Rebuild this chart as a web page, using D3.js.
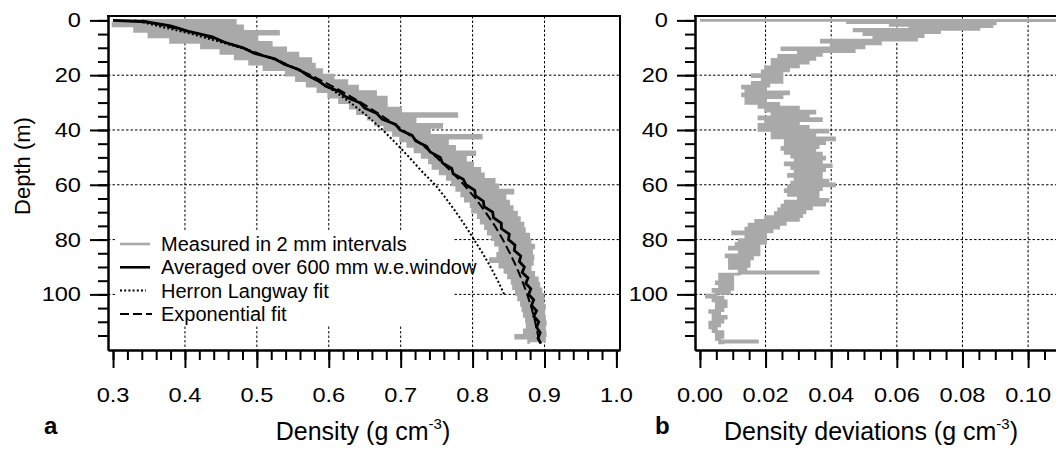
<!DOCTYPE html>
<html><head><meta charset="utf-8">
<script src="https://cdn.jsdelivr.net/npm/d3@7"></script>
<style>
body{margin:0;background:#fff}
svg{display:block}
text{font-family:"Liberation Sans",Arial,Helvetica,sans-serif;fill:#000}
</style>
</head><body>
<svg id="c" width="1056" height="450"></svg>
<script>
// ---------- DATA ----------
const depthTicks = [0, 20, 40, 60, 80, 100];
const depthMinor = [0,5,10,15,20,25,30,35,40,45,50,55,60,65,70,75,80,85,90,95,100,105,110,115];
const densityTicks = [0.3,0.4,0.5,0.6,0.7,0.8,0.9,1.0];
const densityTickLabels = ["0.3","0.4","0.5","0.6","0.7","0.8","0.9","1.0"];
const devTicks = [0,0.02,0.04,0.06,0.08,0.10];
const devTickLabels = ["0.00","0.02","0.04","0.06","0.08","0.10"];

// measured density (2 mm intervals), sampled as a ragged trace
const measuredDepth = [0,1,2,3,4,5,6,7,8,9,10,11,12,13,14,15,16,17,18,19,20,21,22,23,24,25,26,27,28,29,30,31,32,33,34,35,36,37,38,39,40,41,42,43,44,45,46,47,48,49,50,51,52,53,54,55,56,57,58,59,60,61,62,63,64,65,66,67,68,69,70,71,72,73,74,75,76,77,78,79,80,81,82,83,84,85,86,87,88,89,90,91,92,93,94,95,96,97,98,99,100,101,102,103,104,105,106,107,108,109,110,111,112,113,114,115,116,117,118];
const measuredDensity = [0.300,0.470,0.300,0.480,0.330,0.530,0.350,0.500,0.380,0.520,0.423,0.540,0.450,0.557,0.470,0.575,0.490,0.580,0.510,0.590,0.541,0.606,0.555,0.625,0.570,0.640,0.585,0.665,0.600,0.680,0.615,0.680,0.630,0.700,0.640,0.778,0.655,0.720,0.665,0.757,0.678,0.740,0.690,0.812,0.700,0.765,0.710,0.775,0.720,0.803,0.730,0.790,0.740,0.800,0.745,0.810,0.755,0.815,0.765,0.830,0.772,0.835,0.778,0.856,0.785,0.845,0.790,0.850,0.798,0.855,0.800,0.861,0.808,0.865,0.812,0.870,0.818,0.872,0.822,0.878,0.828,0.880,0.832,0.885,0.838,0.882,0.835,0.884,0.825,0.883,0.838,0.880,0.845,0.885,0.850,0.890,0.855,0.892,0.857,0.895,0.861,0.898,0.864,0.898,0.868,0.900,0.870,0.899,0.872,0.900,0.875,0.901,0.876,0.900,0.872,0.901,0.860,0.900,0.878];

// averaged over 600 mm w.e. window
const avgDepth = [0,0.5,2,4,6,8,10,12,14,16,18,20,22,24,26,28,30,32,34,36,38,40,42,44,46,48,50,52,54,56,58,60,62,64,66,68,70,72,74,76,78,80,82,84,86,88,90,92,94,96,98,100,102,104,106,108,110,112,114,116,118];
const avgDensity = [0.300,0.345,0.380,0.405,0.438,0.455,0.481,0.496,0.525,0.538,0.559,0.570,0.585,0.596,0.615,0.624,0.643,0.650,0.667,0.674,0.693,0.699,0.716,0.721,0.736,0.741,0.755,0.758,0.771,0.773,0.787,0.791,0.803,0.804,0.815,0.816,0.828,0.829,0.840,0.840,0.851,0.850,0.859,0.858,0.867,0.865,0.872,0.869,0.877,0.874,0.881,0.878,0.885,0.882,0.889,0.885,0.892,0.889,0.894,0.891,0.895];

// Herron Langway fit
const hlDepth = [0,5,10,15,20,25,30,35,40,45,50,55,60,65,70,75,80,85,90,95,100];
const hlDensity = [0.330,0.410,0.478,0.532,0.572,0.603,0.630,0.654,0.675,0.694,0.712,0.729,0.748,0.763,0.777,0.790,0.802,0.814,0.825,0.835,0.844];

// Exponential fit
const expDepth = [0,5,10,15,20,25,30,35,40,45,50,55,60,65,70,75,80,85,90,95,100,105,110,115,118];
const expDensity = [0.340,0.420,0.480,0.533,0.575,0.612,0.645,0.675,0.703,0.728,0.750,0.770,0.788,0.804,0.818,0.831,0.842,0.852,0.861,0.869,0.876,0.882,0.887,0.891,0.893];

// density deviations
const devDepth = [0,0.1,0.8,1.3,1.8,2.3,2.8,3.3,3.8,4.5,5.2,5.9,6.5,7.2,7.9,8.6,9.3,10.0,10.7,11.4,12.1,12.8,13.5,14.2,14.9,15.6,16.3,17.0,17.7,18.4,19.1,19.8,20.5,21.2,21.9,22.6,23.3,24.0,24.7,25.4,26.1,26.8,27.5,28.2,28.9,29.6,30.3,31.0,31.7,32.4,33.1,33.8,34.5,35.2,35.9,36.6,37.3,38.0,38.7,39.4,40.1,40.8,41.5,42.2,42.9,43.6,44.3,45.0,45.7,46.4,47.1,47.8,48.5,49.2,49.9,50.6,51.3,52.0,52.7,53.4,54.1,54.8,55.5,56.2,56.9,57.6,58.3,59.0,59.7,60.4,61.1,61.8,62.5,63.2,63.9,64.6,65.3,66.0,66.7,67.4,68.1,68.8,69.5,70.2,70.9,71.6,72.3,73.0,73.7,74.4,75.1,75.8,76.5,77.2,77.9,78.6,79.3,80.0,80.7,81.4,82.1,82.8,83.5,84.2,84.9,85.6,86.3,87.0,87.7,88.4,89.1,89.8,90.5,91.2,91.8,92.2,92.6,93.3,94.0,94.7,95.4,96.1,96.8,97.5,98.2,98.9,99.6,100.3,101.0,101.7,102.4,103.1,103.8,104.5,105.2,105.9,106.6,107.3,108.0,108.7,109.4,110.1,110.8,111.5,112.2,112.9,113.6,114.3,115.0,115.7,116.4,117.0,117.4,117.7,118.2];
const devValue = [0.000,0.200,0.045,0.090,0.058,0.089,0.064,0.085,0.047,0.073,0.050,0.068,0.053,0.066,0.037,0.055,0.040,0.050,0.025,0.047,0.030,0.037,0.024,0.035,0.022,0.033,0.022,0.030,0.020,0.027,0.019,0.025,0.016,0.025,0.019,0.025,0.016,0.021,0.013,0.020,0.014,0.027,0.013,0.025,0.014,0.020,0.014,0.024,0.018,0.030,0.020,0.035,0.022,0.033,0.018,0.037,0.020,0.030,0.018,0.033,0.018,0.039,0.022,0.035,0.022,0.041,0.026,0.038,0.026,0.036,0.025,0.035,0.026,0.037,0.028,0.038,0.029,0.037,0.026,0.040,0.028,0.038,0.029,0.037,0.027,0.037,0.029,0.039,0.028,0.041,0.027,0.037,0.026,0.036,0.027,0.036,0.030,0.039,0.026,0.038,0.025,0.034,0.024,0.032,0.023,0.031,0.020,0.030,0.017,0.026,0.015,0.024,0.014,0.022,0.010,0.020,0.014,0.020,0.012,0.020,0.011,0.018,0.009,0.018,0.012,0.018,0.008,0.016,0.009,0.015,0.009,0.015,0.009,0.014,0.012,0.036,0.012,0.006,0.010,0.006,0.010,0.005,0.010,0.006,0.010,0.004,0.009,0.005,0.002,0.007,0.004,0.008,0.005,0.008,0.005,0.007,0.003,0.006,0.004,0.008,0.004,0.007,0.003,0.006,0.003,0.005,0.004,0.007,0.005,0.007,0.005,0.006,0.0175,0.006,0.007];

const legendLabels = ["Measured in 2 mm intervals","Averaged over 600 mm w.e.window","Herron Langway fit","Exponential fit"];

// ---------- DRAW ----------
const svg = d3.select('#c');
const TOP = 16, BOT = 350;
const yS = d3.scaleLinear().domain([-1.6, 120.3]).range([TOP, BOT]);
const xL = d3.scaleLinear().domain([0.293, 1.005]).range([108, 620]);
const xR = d3.scaleLinear().domain([-0.0015, 0.1085]).range([695, 1056]);
const GRAY = '#a9a9a9';

const defs = svg.append('defs');
defs.append('clipPath').attr('id','clipL').append('rect').attr('x',108).attr('y',TOP).attr('width',512).attr('height',BOT-TOP);
defs.append('clipPath').attr('id','clipR').append('rect').attr('x',695).attr('y',TOP).attr('width',361).attr('height',BOT-TOP);

function grid(xs, xg, x0, x1) {
  const g = svg.append('g').attr('stroke','#000').attr('stroke-width',1).attr('stroke-dasharray','2.5,2');
  g.selectAll('line.v').data(xg).join('line').attr('class','v')
    .attr('x1',d=>xs(d)).attr('x2',d=>xs(d)).attr('y1',TOP).attr('y2',BOT);
  g.selectAll('line.h').data(depthTicks.slice(1)).join('line').attr('class','h')
    .attr('x1',x0).attr('x2',x1).attr('y1',d=>yS(d)).attr('y2',d=>yS(d));
}
grid(xL, densityTicks.filter(d=>d>0.35 && d<0.95), 108, 620);
grid(xR, devTicks.filter(d=>d>0.001), 695, 1056);

// data left
const lineL = (ds, vs, curve) => d3.line().curve(curve || d3.curveLinear).x((d,i)=>xL(vs[i])).y((d,i)=>yS(ds[i]))(ds);
const gL = svg.append('g').attr('clip-path','url(#clipL)').attr('fill','none');
gL.append('path').attr('d', lineL(measuredDepth, measuredDensity, d3.curveStepAfter)).attr('stroke',GRAY).attr('stroke-width',2.8);
gL.append('path').attr('d', lineL(hlDepth, hlDensity)).attr('stroke','#000').attr('stroke-width',2).attr('stroke-dasharray','2,2.2');
gL.append('path').attr('d', lineL(expDepth, expDensity)).attr('stroke','#000').attr('stroke-width',2).attr('stroke-dasharray','9,4');
gL.append('path').attr('d', lineL(avgDepth, avgDensity)).attr('stroke','#000').attr('stroke-width',2.8);

// data right
const gR = svg.append('g').attr('clip-path','url(#clipR)').attr('fill','none');
gR.append('path').attr('d', d3.line().curve(d3.curveStepAfter).x((d,i)=>xR(devValue[i])).y((d,i)=>yS(devDepth[i]))(devDepth))
  .attr('stroke',GRAY).attr('stroke-width',2.8);

// legend
const lg = svg.append('g');
lg.append('rect').attr('x',115).attr('y',232).attr('width',338).attr('height',93).attr('fill','#fff');
const styles = [
  {c:GRAY, w:2.6, da:null, x2:150},
  {c:'#000', w:2.6, da:null, x2:150},
  {c:'#000', w:2, da:'2,2.2', x2:146},
  {c:'#000', w:2, da:'9,4', x2:152}
];
legendLabels.forEach((t,i)=>{
  const y = 244 + i*23.3;
  const s = styles[i];
  const ln = lg.append('line').attr('x1',120).attr('x2',s.x2).attr('y1',y).attr('y2',y).attr('stroke',s.c).attr('stroke-width',s.w);
  if (s.da) ln.attr('stroke-dasharray',s.da);
  lg.append('text').attr('x',161).attr('y',y+7).attr('font-size',20).text(t);
});

// axes
function axisStyle(g){ g.selectAll('path,line').attr('stroke','#000').attr('stroke-width',2); g.selectAll('text').remove(); }
// left panel
svg.append('g').attr('transform','translate(108,0)').call(d3.axisLeft(yS).tickValues(depthMinor).tickSize(10).tickSizeOuter(0)).call(axisStyle);
svg.append('g').attr('transform','translate(108,0)').call(d3.axisLeft(yS).tickValues(depthTicks).tickSize(18).tickSizeOuter(0)).call(axisStyle);
const densMinor = d3.range(0, 36).map(i => 0.3 + i*0.02);
svg.append('g').attr('transform',`translate(0,${BOT})`).call(d3.axisBottom(xL).tickValues(densMinor).tickSize(10).tickSizeOuter(0)).call(axisStyle);
svg.append('g').attr('transform',`translate(0,${BOT})`).call(d3.axisBottom(xL).tickValues(densityTicks).tickSize(18).tickSizeOuter(0)).call(axisStyle);
// frame top/right
svg.append('line').attr('x1',107).attr('x2',621).attr('y1',TOP).attr('y2',TOP).attr('stroke','#000').attr('stroke-width',2);
svg.append('line').attr('x1',620).attr('x2',620).attr('y1',TOP).attr('y2',BOT).attr('stroke','#000').attr('stroke-width',2);

// right panel
svg.append('g').attr('transform','translate(695,0)').call(d3.axisLeft(yS).tickValues(depthMinor).tickSize(10).tickSizeOuter(0)).call(axisStyle);
svg.append('g').attr('transform','translate(695,0)').call(d3.axisLeft(yS).tickValues(depthTicks).tickSize(18).tickSizeOuter(0)).call(axisStyle);
const devMinor = d3.range(0, 22).map(i => i*0.005);
svg.append('g').attr('transform',`translate(0,${BOT})`).call(d3.axisBottom(xR).tickValues(devMinor).tickSize(10).tickSizeOuter(0)).call(axisStyle);
svg.append('g').attr('transform',`translate(0,${BOT})`).call(d3.axisBottom(xR).tickValues(devTicks).tickSize(18).tickSizeOuter(0)).call(axisStyle);
svg.append('line').attr('x1',694).attr('x2',1056).attr('y1',TOP).attr('y2',TOP).attr('stroke','#000').attr('stroke-width',2);

// tick labels
const TL = 20, SX = 1.18;
densityTicks.forEach((v,i)=>{
  svg.append('text').attr('transform',`translate(${xL(v)},402) scale(${SX},1)`).attr('text-anchor','middle').attr('font-size',TL).text(densityTickLabels[i]);
});
devTicks.forEach((v,i)=>{
  svg.append('text').attr('transform',`translate(${xR(v)},402) scale(${SX},1)`).attr('text-anchor','middle').attr('font-size',TL).text(devTickLabels[i]);
});
depthTicks.forEach(v=>{
  svg.append('text').attr('transform',`translate(81,${yS(v)+7}) scale(${SX},1)`).attr('text-anchor','end').attr('font-size',TL).text(String(v));
  svg.append('text').attr('transform',`translate(668,${yS(v)+7}) scale(${SX},1)`).attr('text-anchor','end').attr('font-size',TL).text(String(v));
});

// axis titles
function title(x, y, main) {
  const t = svg.append('text').attr('x',x).attr('y',y).attr('text-anchor','middle').attr('font-size',25);
  t.append('tspan').text(main + ' (g cm');
  t.append('tspan').attr('font-size',15).attr('dy',-11).text('-3');
  t.append('tspan').attr('dy',11).text(')');
}
title(363, 440, 'Density');
title(871, 440, 'Density deviations');
svg.append('text').attr('transform','translate(30,166) rotate(-90)').attr('text-anchor','middle').attr('font-size',22).text('Depth (m)');
svg.append('text').attr('x',44).attr('y',434).attr('font-size',24).attr('font-weight','bold').text('a');
svg.append('text').attr('x',655).attr('y',434).attr('font-size',24).attr('font-weight','bold').text('b');
</script>
</body></html>
